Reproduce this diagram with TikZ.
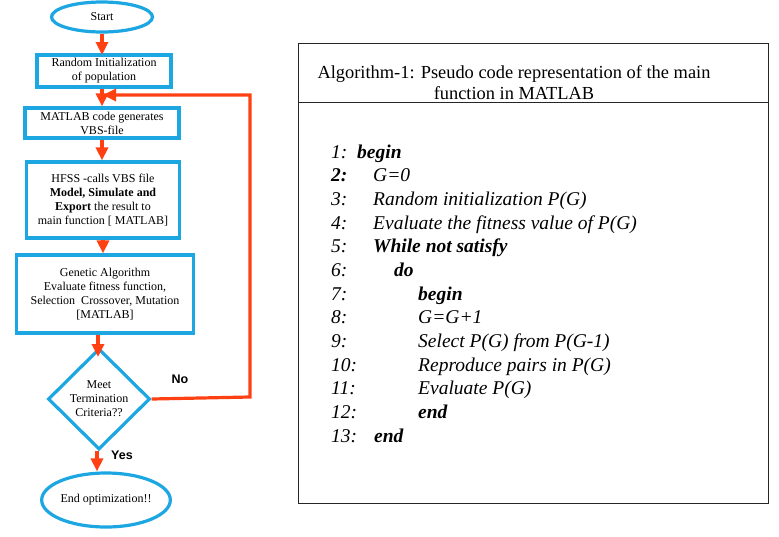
\documentclass[tikz,border=0pt]{standalone}
\usepackage{fontspec}
\setmainfont{Liberation Serif}
\newfontfamily\lsans{Liberation Sans}
\usetikzlibrary{shapes.geometric,arrows.meta}
\definecolor{fblue}{HTML}{1CA6E2}
\definecolor{fred}{HTML}{FF4012}
\tikzset{
  fbox/.style={draw=fblue,line width=3.2pt,fill=white,align=center,inner sep=0pt,
    font=\fontsize{12}{14}\selectfont},
  fell/.style={fbox,ellipse},
  fdia/.style={fbox,diamond},
  farr/.style={draw=fred,line width=3.2pt,-{Triangle[width=12pt,length=13pt]}},
  flab/.style={font=\lsans\bfseries\fontsize{12.5}{14}\selectfont},
  pc/.style={anchor=base west,inner sep=0pt,font=\fontsize{19.5}{21}\selectfont\itshape},
}
\begin{document}
\begin{tikzpicture}[x=1pt,y=-1pt]
\useasboundingbox (0,0) rectangle (779,536);
% flowchart
\node[fell,minimum width=101pt,minimum height=30pt] (start) at (102,17) {Start};
\node[fbox,minimum width=134pt,minimum height=32pt] (b1) at (104,71) {Random Initialization\\of population};
\node[fbox,minimum width=154pt,minimum height=30pt] (b2) at (102,123) {MATLAB code generates\\VBS-file};
\node[fbox,minimum width=153pt,minimum height=76pt] (b3) at (103,200) {HFSS -calls VBS file\\\textbf{Model, Simulate and}\\\textbf{Export} the result to\\main function [ MATLAB]};
\node[fbox,minimum width=177pt,minimum height=78pt] (b4) at (105,294) {Genetic Algorithm\\Evaluate fitness function,\\Selection\ \ Crossover, Mutation\\{[MATLAB]}};
\node[fdia,minimum width=102pt,minimum height=101pt] (dec) at (99,399) {Meet\\Termination\\Criteria??};
\node[fell,minimum width=115pt,minimum height=54pt] (end) at (106,500) {End optimization!!};
\coordinate (r1) at (250,397);
\coordinate (r2) at (250,95);
\coordinate (r3) at (103,95);
\draw[farr] (start.south -| 102,0) -- (102,55);
\draw[farr] (b1.south -| 102,0) -- (b2.north -| 102,0);
\draw[farr] (b2.south -| 102,0) -- (b3.north -| 102,0);
\draw[farr] (b3.south -| 103,0) -- (b4.north -| 103,0);
\draw[farr] (b4.south -| 98,0) -- (98,357);
\draw[farr] (dec.south -| 97,0) -- (end.north -| 97,0);
\draw[farr] (dec.east) -- (r1) -- (r2) -- (r3);
\node[flab] (no) at (180,379) {No};
\node[flab] (yes) at (122,455) {Yes};
% algorithm box
\draw[line width=1pt,draw=black!85] (298,43) rectangle (768,503);
\draw[line width=1pt,draw=black!85] (298,102) -- (768,102);
\node[align=center,inner sep=0pt,font=\fontsize{18.4}{21}\selectfont] (hd) at (514,83) {Algorithm-1: Pseudo code representation of the main\\function in MATLAB};
\foreach \i/\n/\x/\t in {
 1/{1:}/357/{\textbf{begin}},
 2/{\textbf{2:}}/373/{G=0},
 3/{3:}/373/{Random initialization P(G)},
 4/{4:}/373/{Evaluate the fitness value of P(G)},
 5/{5:}/373/{\textbf{While not satisfy}},
 6/{6:}/394/{\textbf{do}},
 7/{7:}/418/{\textbf{begin}},
 8/{8:}/418/{G=G+1},
 9/{9:}/418/{Select P(G) from P(G-1)},
 10/{10:}/418/{Reproduce pairs in P(G)},
 11/{11:}/418/{Evaluate P(G)},
 12/{12:}/418/{\textbf{end}},
 13/{13:}/374/{\textbf{end}}}{
  \node[pc] (n\i) at (331,{158+(\i-1)*23.67}) {\n};
  \node[pc] (t\i) at (\x,{158+(\i-1)*23.67}) {\t};
}
\end{tikzpicture}
\end{document}
